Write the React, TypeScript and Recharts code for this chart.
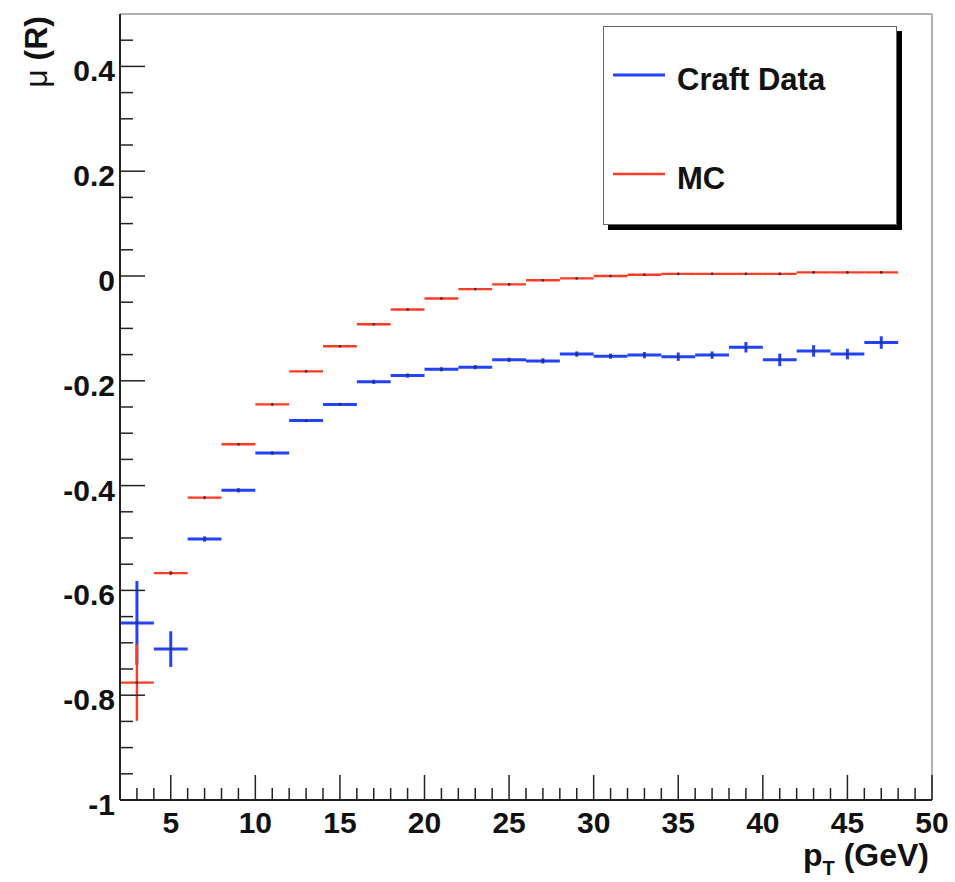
import React from "react";
import {
  ScatterChart,
  Scatter,
  XAxis,
  YAxis,
  ErrorBar,
  ReferenceLine,
  Legend,
  Label,
} from "recharts";

// 2 GeV wide pT bins, centres only; half-width is the x error.
const binCenters = [3, 5, 7, 9, 11, 13, 15, 17, 19, 21, 23, 25, 27, 29, 31, 33, 35, 37, 39, 41, 43, 45, 47];
const binHalfWidth = 1;

const craftMean = [
  -0.662, -0.712, -0.502, -0.409, -0.338, -0.276, -0.245, -0.202, -0.19, -0.178, -0.174, -0.16,
  -0.162, -0.149, -0.153, -0.151, -0.154, -0.151, -0.136, -0.16, -0.143, -0.149, -0.127,
];
const craftErr = [
  0.08, 0.034, 0.005, 0.004, 0.003, 0.003, 0.003, 0.004, 0.004, 0.004, 0.004, 0.004,
  0.005, 0.005, 0.005, 0.006, 0.008, 0.007, 0.01, 0.012, 0.011, 0.01, 0.012,
];

const mcMean = [
  -0.776, -0.567, -0.423, -0.321, -0.245, -0.182, -0.134, -0.092, -0.064, -0.043, -0.025, -0.016,
  -0.008, -0.0045, 0.0, 0.0025, 0.004, 0.004, 0.004, 0.004, 0.007, 0.007, 0.007,
];
const mcErr = [
  0.073, 0.004, 0.003, 0.002, 0.002, 0.002, 0.002, 0.002, 0.002, 0.002, 0.002, 0.002,
  0.002, 0.002, 0.002, 0.002, 0.002, 0.002, 0.002, 0.002, 0.002, 0.002, 0.002,
];

const X_MIN = 2;
const X_MAX = 50;
const Y_MIN = -1;
const Y_MAX = 0.5;
const xMajor = [5, 10, 15, 20, 25, 30, 35, 40, 45, 50];
const yMajor = [-1, -0.8, -0.6, -0.4, -0.2, 0, 0.2, 0.4];

const legendItems = [
  { label: "Craft Data", key: "craft" },
  { label: "MC", key: "mc" },
];

const BLUE = "#2242ff";
const RED = "#ff3b26";
const AXIS = "#222";
const FRAME = "#b0b0b0";
const FONT = '"Liberation Sans", Arial, Helvetica, sans-serif';

const seriesStyle: Record<string, { color: string; width: number }> = {
  craft: { color: BLUE, width: 3 },
  mc: { color: RED, width: 2.4 },
};

// minor ticks every 1 GeV along x, every 0.05 along y
const steps = (lo: number, hi: number, d: number) => {
  const out: number[] = [];
  for (let v = lo; v <= hi + 1e-9; v += d) out.push(Math.round(v * 100) / 100);
  return out;
};
const xTicks = steps(X_MIN, X_MAX, 1);
const yTicks = steps(Y_MIN, Y_MAX, 0.05);

const rows = (means: number[], errs: number[]) =>
  binCenters.map((x, i) => ({ x, y: means[i], ex: binHalfWidth, ey: errs[i] }));

const craftRows = rows(craftMean, craftErr);
const mcRows = rows(mcMean, mcErr);

const near = (a: number, list: number[]) => list.some((b) => Math.abs(a - b) < 1e-6);

const labelStyle = { fontFamily: FONT, fontWeight: 700, fontSize: 30, fill: "#111" };

// ROOT style: ticks point into the frame
function XTick(props: any) {
  const { x, y, payload } = props;
  const v = payload.value as number;
  if (v <= X_MIN) return null;
  const major = near(v, xMajor);
  return (
    <g>
      <line x1={x} x2={x} y1={y} y2={y - (major ? 25 : 12)} stroke={AXIS} strokeWidth={1.5} />
      {major && (
        <text x={x} y={y + 33} textAnchor="middle" {...labelStyle}>
          {v}
        </text>
      )}
    </g>
  );
}

function YTick(props: any) {
  const { x, y, payload } = props;
  const v = payload.value as number;
  const major = near(v, yMajor);
  const inside = v > Y_MIN + 1e-6 && v < Y_MAX - 1e-6;
  return (
    <g>
      {inside && (
        <line x1={x} x2={x + (major ? 25 : 13)} y1={y} y2={y} stroke={AXIS} strokeWidth={1.5} />
      )}
      {major && (
        <text x={x - 5} y={y + 15} textAnchor="end" {...labelStyle}>
          {String(Number(v.toFixed(2)))}
        </text>
      )}
    </g>
  );
}

function XTitle(props: any) {
  const { viewBox } = props;
  const x = viewBox.x + viewBox.width - 3;
  const y = viewBox.y + 66;
  return (
    <text x={x} y={y} textAnchor="end" fontFamily={FONT} fontWeight={700} fontSize={32} fill="#111">
      p
      <tspan fontSize={20} dy={9}>
        T
      </tspan>
      <tspan dy={-9}> (GeV)</tspan>
    </text>
  );
}

function YTitle(props: any) {
  const { viewBox } = props;
  const x = viewBox.x + 47;
  const y = viewBox.y + 2;
  return (
    <text
      x={x}
      y={y}
      transform={`rotate(-90, ${x}, ${y})`}
      textAnchor="end"
      fontFamily={FONT}
      fontWeight={700}
      fontSize={32}
      fill="#111"
    >
      <tspan fontWeight={400}>μ</tspan> (R)
    </text>
  );
}

function LegendBox() {
  return (
    <div
      style={{
        width: 294,
        height: 199,
        boxSizing: "border-box",
        background: "#fff",
        border: "1.5px solid #666",
        boxShadow: "5px 5px 0 #000",
      }}
    >
      <svg width={291} height={196}>
        {legendItems.map((item, i) => {
          const s = seriesStyle[item.key];
          const cy = 48 + i * 99;
          return (
            <g key={item.key}>
              <line x1={9} x2={61} y1={cy} y2={cy} stroke={s.color} strokeWidth={s.width} />
              <text x={73} y={cy + 15} fontFamily={FONT} fontWeight={700} fontSize={31} fill="#111">
                {item.label}
              </text>
            </g>
          );
        })}
      </svg>
    </div>
  );
}

const dot = (p: any) => <circle cx={p.cx} cy={p.cy} r={1.3} fill="#333" />;

export default function App() {
  return (
    <div style={{ position: "absolute", left: 0, top: 0, background: "#fff" }}>
      <ScatterChart width={955} height={882} margin={{ top: 14, right: 23, bottom: 0, left: 0 }}>
        <XAxis
          type="number"
          dataKey="x"
          domain={[X_MIN, X_MAX]}
          allowDataOverflow
          ticks={xTicks}
          interval={0}
          height={82}
          tickSize={0}
          tickMargin={0}
          tickLine={false}
          axisLine={{ stroke: AXIS, strokeWidth: 2 }}
          tick={<XTick />}
        >
          <Label content={<XTitle />} />
        </XAxis>
        <YAxis
          type="number"
          dataKey="y"
          domain={[Y_MIN, Y_MAX]}
          allowDataOverflow
          ticks={yTicks}
          interval={0}
          width={120}
          tickSize={0}
          tickMargin={0}
          tickLine={false}
          axisLine={{ stroke: AXIS, strokeWidth: 2 }}
          tick={<YTick />}
        >
          <Label content={<YTitle />} />
        </YAxis>
        <ReferenceLine y={Y_MAX} stroke={FRAME} strokeWidth={2} />
        <ReferenceLine x={X_MAX} stroke={FRAME} strokeWidth={2} />
        <Legend
          layout="horizontal"
          verticalAlign="middle"
          align="center"
          wrapperStyle={{ left: 603, top: 26, width: 294, height: 199 }}
          content={() => <LegendBox />}
        />
        <Scatter name="Craft Data" data={craftRows} shape={dot} isAnimationActive={false}>
          <ErrorBar dataKey="ex" direction="x" width={0} stroke={BLUE} strokeWidth={3} isAnimationActive={false} />
          <ErrorBar dataKey="ey" direction="y" width={0} stroke={BLUE} strokeWidth={3} isAnimationActive={false} />
        </Scatter>
        <Scatter name="MC" data={mcRows} shape={dot} isAnimationActive={false}>
          <ErrorBar dataKey="ex" direction="x" width={0} stroke={RED} strokeWidth={2.4} isAnimationActive={false} />
          <ErrorBar dataKey="ey" direction="y" width={0} stroke={RED} strokeWidth={2.4} isAnimationActive={false} />
        </Scatter>
      </ScatterChart>
    </div>
  );
}
